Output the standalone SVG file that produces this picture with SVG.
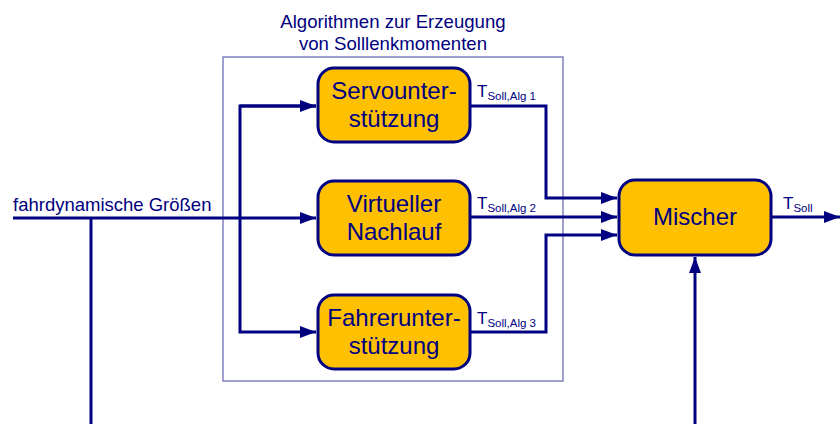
<svg xmlns="http://www.w3.org/2000/svg" width="840" height="424" viewBox="0 0 840 424">
  <style>
    .box { fill: #FFC000; stroke: #000080; stroke-width: 3; }
    .frame { fill: none; stroke: #6E6EB4; stroke-width: 1.3; }
    .wire { fill: none; stroke: #000080; stroke-width: 3; }
    .t { font-family: "Liberation Sans", Arial, sans-serif; fill: #000080; }
    .lbl { font-size: 24px; text-anchor: middle; }
    .cap { font-size: 18.6px; text-anchor: middle; }
    .sig { font-size: 18.5px; }
    .tl { font-size: 17px; }
    .sub { font-size: 11.5px; }
  </style>
  <defs>
    <marker id="arrow" viewBox="0 0 16 12" refX="16" refY="6" markerWidth="16" markerHeight="12" markerUnits="userSpaceOnUse" orient="auto">
      <path d="M0,0 L16,6 L0,12 Z" fill="#000080"/>
    </marker>
  </defs>

  <rect width="840" height="424" fill="#FFFFFF"/>

  <!-- Frame around the torque algorithms -->
  <g id="algorithmen">
    <rect class="frame" x="223" y="57" width="340" height="324"/>
    <text class="t cap" x="393" y="28">Algorithmen zur Erzeugung</text>
    <text class="t cap" x="393" y="50">von Solllenkmomenten</text>
  </g>

  <!-- Connectors -->
  <g id="connectors">
    <line class="wire" x1="13" y1="218" x2="316" y2="218" marker-end="url(#arrow)"/>
    <line class="wire" x1="91" y1="218" x2="91" y2="424"/>
    <polyline class="wire" points="316,106 240,106 240,332 316,332" marker-end="url(#arrow)"/>
    <line class="wire" x1="240" y1="106" x2="316" y2="106" marker-end="url(#arrow)"/>
    <polyline class="wire" points="470,106 546,106 546,198 617,198" marker-end="url(#arrow)"/>
    <line class="wire" x1="470" y1="217" x2="617" y2="217" marker-end="url(#arrow)"/>
    <polyline class="wire" points="470,332 546,332 546,235 617,235" marker-end="url(#arrow)"/>
    <line class="wire" x1="771" y1="217" x2="840" y2="217" marker-end="url(#arrow)"/>
    <line class="wire" x1="695" y1="424" x2="695" y2="257" marker-end="url(#arrow)"/>
  </g>

  <text class="t sig" x="13" y="211">fahrdynamische Größen</text>

  <g id="servounterstuetzung">
    <rect class="box" x="318" y="68" width="152" height="74" rx="16"/>
    <text class="t lbl" x="394" y="99">Servounter-</text>
    <text class="t lbl" x="394" y="127">stützung</text>
    <text class="t tl" x="477" y="97">T<tspan class="sub" dy="3">Soll,Alg 1</tspan></text>
  </g>

  <g id="virtueller-nachlauf">
    <rect class="box" x="318" y="181" width="152" height="74" rx="16"/>
    <text class="t lbl" x="394" y="212">Virtueller</text>
    <text class="t lbl" x="394" y="240">Nachlauf</text>
    <text class="t tl" x="477" y="209">T<tspan class="sub" dy="3">Soll,Alg 2</tspan></text>
  </g>

  <g id="fahrerunterstuetzung">
    <rect class="box" x="318" y="295" width="152" height="74" rx="16"/>
    <text class="t lbl" x="394" y="326">Fahrerunter-</text>
    <text class="t lbl" x="394" y="354">stützung</text>
    <text class="t tl" x="477" y="324">T<tspan class="sub" dy="3">Soll,Alg 3</tspan></text>
  </g>

  <g id="mischer">
    <rect class="box" x="619" y="180" width="152" height="75" rx="16"/>
    <text class="t lbl" x="695" y="225">Mischer</text>
    <text class="t tl" x="783" y="209">T<tspan class="sub" dy="3">Soll</tspan></text>
  </g>
</svg>
